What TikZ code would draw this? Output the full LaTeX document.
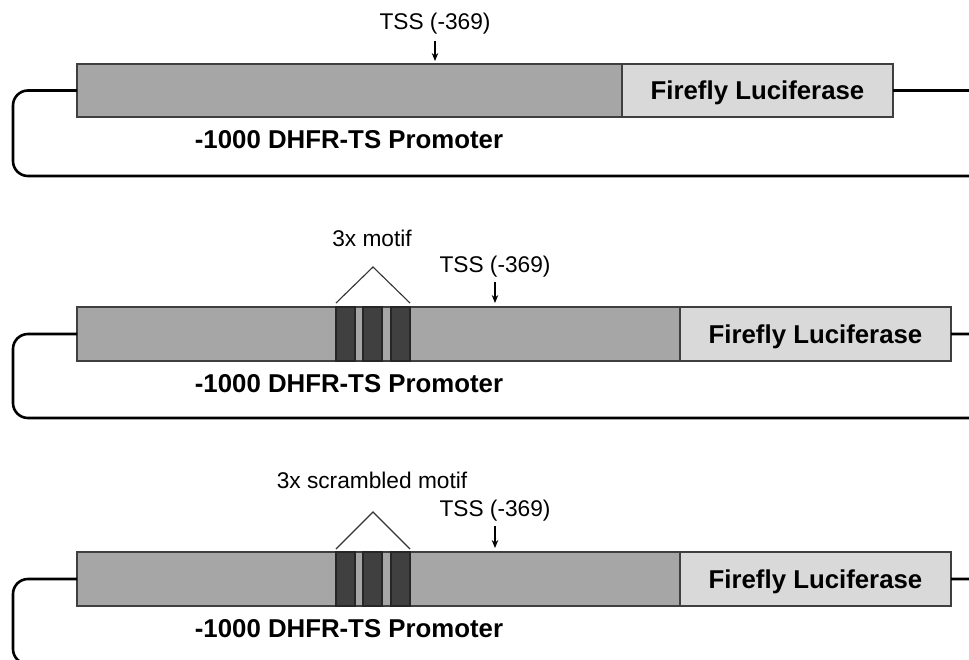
\documentclass[tikz,border=0pt]{standalone}
\usepackage{fontspec}
\setmainfont{Liberation Sans}
\usetikzlibrary{arrows.meta}
\definecolor{promo}{HTML}{A6A6A6}
\definecolor{lucc}{HTML}{D9D9D9}
\definecolor{motifc}{HTML}{404040}
\definecolor{edgec}{HTML}{3F3F3F}
\begin{document}
\begin{tikzpicture}[x=1pt,y=-1pt,
 seg/.style={draw=edgec,line width=1.3pt,minimum height=54pt,inner sep=0pt,outer sep=0pt,anchor=north west},
 promoter/.style={seg,fill=promo},
 lucbox/.style={seg,fill=lucc,text depth=0pt,font=\fontsize{25.8}{30}\selectfont\bfseries},
 bar/.style={draw=black!85,fill=motifc,line width=1.2pt,inner sep=0pt,outer sep=0pt,anchor=north west,minimum width=19pt,minimum height=54pt},
 lab/.style={font=\fontsize{22.7}{26}\selectfont,inner sep=0pt,text depth=0pt},
 blab/.style={font=\fontsize{25.8}{30}\selectfont\bfseries,inner sep=0pt,text depth=0pt},
 loopline/.style={line width=2.6pt,rounded corners=15pt},
 tssarrow/.style={-{Stealth[length=8pt,width=6.5pt]},line width=1.2pt},
 hat/.style={draw=black!80,line width=1.1pt}]
\useasboundingbox (0,0) rectangle (969,659);
\clip (0,0) rectangle (969,659);

% ---------- panel 1 ----------
\node[promoter,minimum width=545pt,minimum height=53pt] (p1) at (77,64) {};
\node[lucbox,minimum width=271pt,minimum height=53pt] (l1) at (622,64) {Firefly Luciferase};
\coordinate (lb1) at (13,176);
\coordinate (rb1) at (990,176);
\draw[loopline] (p1.west) -| (lb1) -- (rb1) |- (l1.east);
\node[lab] (t1) at (435,21) {TSS (-369)};
\draw[tssarrow] ([yshift=-12pt]t1.south) -- ([yshift=3pt]t1.south |- p1.north);
\node[blab] (d1) at (349,139) {-1000 DHFR-TS Promoter};

% ---------- panel 2 ----------
\node[promoter,minimum width=603pt] (p2) at (77,307) {};
\node[lucbox,minimum width=271pt] (l2) at (680,307) {Firefly Luciferase};
\node[bar] (b21) at (336,307) {};
\node[bar] (b22) at (363,307) {};
\node[bar] (b23) at (391,307) {};
\coordinate (lb2) at (13,418);
\coordinate (rb2) at (990,418);
\draw[loopline] (p2.west) -| (lb2) -- (rb2) |- (l2.east);
\coordinate (a2) at (373,267);
\draw[hat] ([yshift=4pt]b21.north west) -- (a2) -- ([yshift=4pt]b23.north east);
\node[lab] (m2) at (372,238) {3x motif};
\node[lab] (t2) at (495,264) {TSS (-369)};
\draw[tssarrow] ([yshift=-10pt]t2.south) -- ([yshift=4pt]t2.south |- p2.north);
\node[blab] (d2) at (349,383) {-1000 DHFR-TS Promoter};

% ---------- panel 3 ----------
\node[promoter,minimum width=603pt] (p3) at (77,552) {};
\node[lucbox,minimum width=271pt] (l3) at (680,552) {Firefly Luciferase};
\node[bar] (b31) at (336,552) {};
\node[bar] (b32) at (363,552) {};
\node[bar] (b33) at (391,552) {};
\coordinate (lb3) at (13,664);
\coordinate (rb3) at (990,664);
\draw[loopline] (p3.west) -| (lb3) -- (rb3) |- (l3.east);
\coordinate (a3) at (373,512);
\draw[hat] ([yshift=3pt]b31.north west) -- (a3) -- ([yshift=3pt]b33.north east);
\node[lab] (m3) at (372,480) {3x scrambled motif};
\node[lab] (t3) at (495,508) {TSS (-369)};
\draw[tssarrow] ([yshift=-10pt]t3.south) -- ([yshift=4pt]t3.south |- p3.north);
\node[blab] (d3) at (349,628) {-1000 DHFR-TS Promoter};
\end{tikzpicture}
\end{document}
